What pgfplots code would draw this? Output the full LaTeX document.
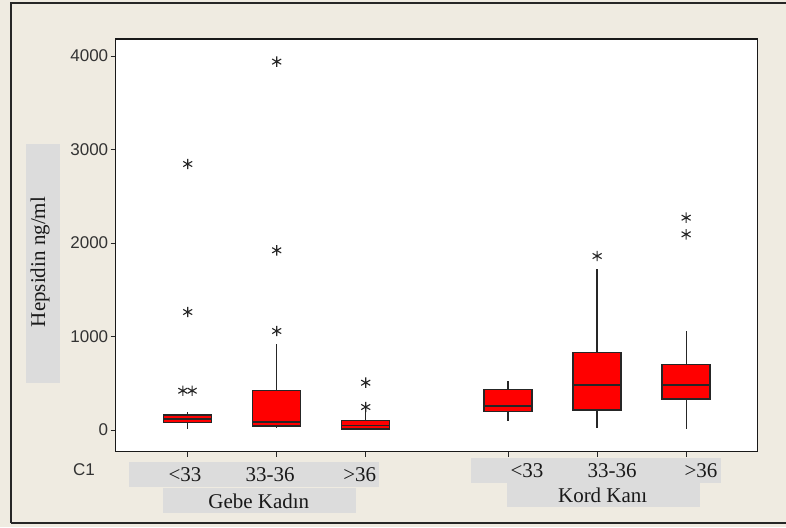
\documentclass[border=0pt]{standalone}
\usepackage{pgfplots}
\pgfplotsset{compat=1.18}
\usepackage{fontspec}
\setmainfont{Liberation Serif}
\newfontfamily\sansf{Liberation Sans}
\definecolor{bgbeige}{HTML}{EFEBE1}
\definecolor{lblgray}{HTML}{DCDCDC}
\begin{document}
\begin{tikzpicture}
\useasboundingbox (0pt,0pt) rectangle (786pt,527pt);
\fill[bgbeige] (0pt,0pt) rectangle (786pt,527pt);
\draw[line width=1.6pt, black!85] (11pt,4pt) -- (11pt,524pt) -- (786pt,524pt);
\draw[line width=1.6pt, black!85] (11pt,4pt) -- (786pt,4pt);
% gray label boxes
\fill[lblgray] (26pt,144.3pt) rectangle (60pt,383pt);
\fill[lblgray] (129pt,40.3pt) rectangle (379pt,65pt);
\fill[lblgray] (163.3pt,14.3pt) rectangle (356pt,39.3pt);
\fill[lblgray] (471pt,44.3pt) rectangle (721pt,69.3pt);
\fill[lblgray] (506.7pt,20.3pt) rectangle (700pt,44.3pt);
\node[rotate=90, font=\fontsize{21}{21}\selectfont, text=black!90] at (40pt,265pt) {Hepsidin ng/ml};
\begin{axis}[
  at={(115.7pt,75.3pt)}, anchor=south west,
  scale only axis, width=642pt, height=412.7pt,
  xmin=0.191, xmax=7.404, ymin=-232, ymax=4182,
  xtick={1,2,3,4.6,5.6,6.6}, xticklabel=\empty,
  ytick={0,1000,2000,3000,4000},
  xtick pos=bottom, ytick pos=left,
  tick align=outside, major tick length=5pt,
  tick style={black!85, line width=1pt},
  axis line style={line width=1.4pt, black!90},
  axis background/.style={fill=white},
  /pgf/number format/1000 sep={},
  /pgf/number format/assume math mode=true,
  yticklabel style={font=\sansf\fontsize{17}{17}\selectfont, text=black!80, xshift=1pt},
  boxst/.style={fill=red, draw=black!85, line width=1.4pt},
  wst/.style={draw=black!85, line width=1.3pt},
]
% Gebe <33
\addplot[wst] coordinates {(1,160) (1,189)};
\addplot[wst] coordinates {(1,82) (1,10)};
\addplot[boxst] coordinates {(0.73,82) (1.27,82) (1.27,160) (0.73,160)} -- cycle;
\addplot[wst] coordinates {(0.73,118) (1.27,118)};
% Gebe 33-36
\addplot[wst] coordinates {(2,420) (2,920)};
\addplot[wst] coordinates {(2,43) (2,25)};
\addplot[boxst] coordinates {(1.73,43) (2.27,43) (2.27,420) (1.73,420)} -- cycle;
\addplot[wst] coordinates {(1.73,86) (2.27,86)};
% Gebe >36
\addplot[wst] coordinates {(3,100) (3,189)};
\addplot[wst] coordinates {(3,10) (3,5)};
\addplot[boxst] coordinates {(2.73,10) (3.27,10) (3.27,100) (2.73,100)} -- cycle;
\addplot[wst] coordinates {(2.73,46) (3.27,46)};
% Kord <33
\addplot[wst] coordinates {(4.6,435) (4.6,527)};
\addplot[wst] coordinates {(4.6,200) (4.6,96)};
\addplot[boxst] coordinates {(4.33,200) (4.87,200) (4.87,435) (4.33,435)} -- cycle;
\addplot[wst] coordinates {(4.33,257) (4.87,257)};
% Kord 33-36
\addplot[wst] coordinates {(5.6,827) (5.6,1722)};
\addplot[wst] coordinates {(5.6,214) (5.6,18)};
\addplot[boxst] coordinates {(5.33,214) (5.87,214) (5.87,827) (5.33,827)} -- cycle;
\addplot[wst] coordinates {(5.33,481) (5.87,481)};
% Kord >36
\addplot[wst] coordinates {(6.6,698) (6.6,1062)};
\addplot[wst] coordinates {(6.6,332) (6.6,7)};
\addplot[boxst] coordinates {(6.33,332) (6.87,332) (6.87,698) (6.33,698)} -- cycle;
\addplot[wst] coordinates {(6.33,481) (6.87,481)};
% outliers
\addplot[only marks, mark=asterisk, mark size=5.2pt, mark options={line width=1.1pt, draw=black!85}] coordinates {
(1,1262) (1,2845) (0.945,420) (1.05,420)
(2,1059) (2,1922) (2,3940)
(3,246) (3,506)
(5.6,1861) (6.6,2093) (6.6,2271)};
\end{axis}
% x category labels
\node[anchor=base, font=\sansf\fontsize{17}{17}\selectfont, text=black!80] at (84pt,52pt) {C1};
\begin{scope}[every node/.style={anchor=base, font=\fontsize{21}{21}\selectfont, text=black!90, inner sep=0pt}]
\node at (185pt,45.3pt) {<33};
\node at (270pt,45.3pt) {33-36};
\node at (359.7pt,45.3pt) {>36};
\node at (258.8pt,18.7pt) {Gebe Kadın};
\node at (527pt,49.7pt) {<33};
\node at (612pt,49.7pt) {33-36};
\node at (701pt,49.7pt) {>36};
\node at (602.7pt,24.3pt) {Kord Kanı};
\end{scope}
\end{tikzpicture}
\end{document}
